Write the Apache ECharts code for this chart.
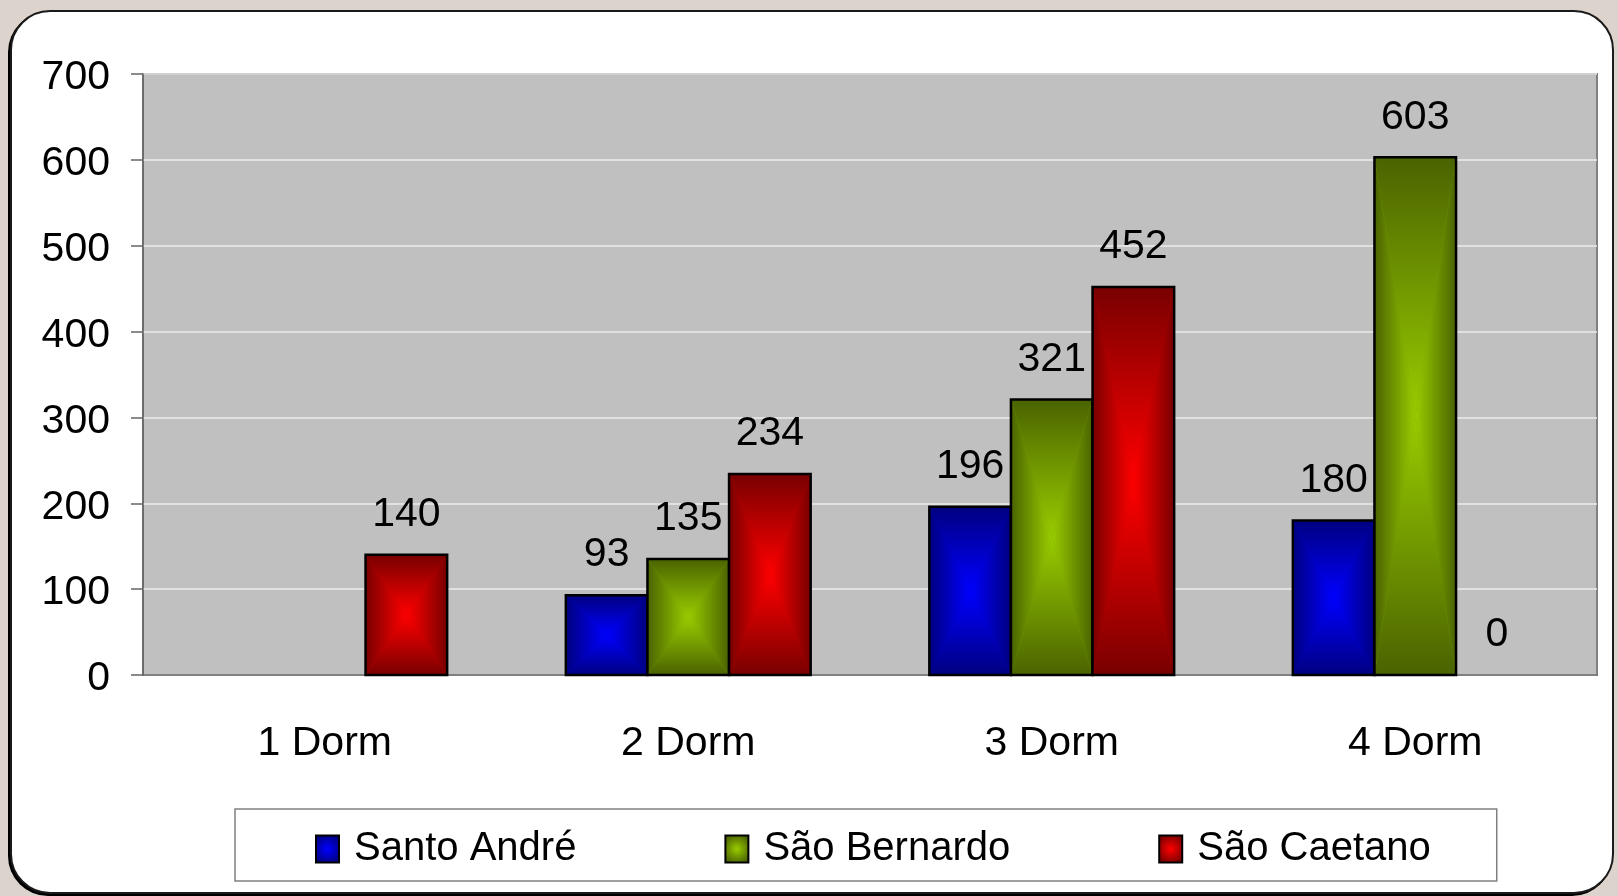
<!DOCTYPE html>
<html>
<head>
    <meta charset="utf-8">
    <title>Dormitórios por cidade</title>
    <script src="https://cdn.jsdelivr.net/npm/echarts@6/dist/echarts.min.js"></script>
    <style>
        html, body {
            margin: 0;
            padding: 0;
            width: 1618px;
            height: 896px;
            overflow: hidden;
            background: #dcd4cc;
        }
        #panel {
            position: absolute;
            left: 10px;
            top: 10px;
            width: 1600px;
            height: 880px;
            background: #fff;
            border: 2px solid #1a1a1a;
            border-radius: 40px;
            box-shadow: -2px 2px 0 #000;
        }
        #chart-container {
            position: absolute;
            left: 0;
            top: 0;
            width: 1618px;
            height: 896px;
        }
    </style>
</head>
<body>
<div id="panel"></div>
<div id="chart-container"></div>

<script>
    // 数据
    var categories = ['1 Dorm', '2 Dorm', '3 Dorm', '4 Dorm'];
    var seriesNames = ['Santo André', 'São Bernardo', 'São Caetano'];
    var santoAndre = [null, 93, 196, 180];
    var saoBernardo = [null, 135, 321, 603];
    var saoCaetano = [140, 234, 452, 0];
    var yTicks = [0, 700, 100]; // min, max, interval

    // 颜色 (暗, 中, 亮)
    var palette = [
        ['#000080', '#0000c8', '#0000ff'],
        ['#4a6300', '#769e00', '#99cc00'],
        ['#780000', '#c00000', '#ff0000']
    ];

    var BAR_RATIO = 0.2245;
    var FONT = '"Liberation Sans", Arial, sans-serif';

    function grad(x2, y2, from, to) {
        return {
            type: 'linear', x: 0, y: 0, x2: x2, y2: y2,
            colorStops: [
                { offset: 0, color: from },
                { offset: 1, color: to }
            ]
        };
    }

    // 画柱子：四个三角形从中心渐变
    function makeRender(idx) {
        var c = palette[idx];
        return function (params, api) {
            var v = api.value(1);
            if (v === null || v === undefined || isNaN(v)) return;
            var cat = api.value(0);
            var bandW = api.size([1, 0])[0];
            var barW = bandW * BAR_RATIO;
            var base = api.coord([cat, 0]);
            var top = api.coord([cat, v]);
            var x0 = base[0] - barW * 1.5 + idx * barW;
            var x1 = x0 + barW;
            var y0 = top[1], y1 = base[1];
            var cx = (x0 + x1) / 2, cy = (y0 + y1) / 2;
            var children = [];
            if (y1 - y0 > 0.5) {
                children.push(
                    { type: 'rect', shape: { x: x0, y: y0, width: barW, height: y1 - y0 }, style: { fill: c[1] } },
                    { type: 'polygon', shape: { points: [[x0, y0], [x1, y0], [cx, cy]] }, style: { fill: grad(0, 1, c[0], c[2]) } },
                    { type: 'polygon', shape: { points: [[x0, y1], [x1, y1], [cx, cy]] }, style: { fill: grad(0, 1, c[2], c[0]) } },
                    { type: 'polygon', shape: { points: [[x0, y0], [x0, y1], [cx, cy]] }, style: { fill: grad(1, 0, c[0], c[2]) } },
                    { type: 'polygon', shape: { points: [[x1, y0], [x1, y1], [cx, cy]] }, style: { fill: grad(1, 0, c[2], c[0]) } },
                    { type: 'rect', shape: { x: x0, y: y0, width: barW, height: y1 - y0 }, style: { fill: null, stroke: '#000', lineWidth: 2.5 } }
                );
            }
            children.push({
                type: 'text',
                style: {
                    text: String(v), x: cx, y: y0 - 40,
                    align: 'center', verticalAlign: 'middle',
                    fill: '#000', font: '41px ' + FONT
                }
            });
            return { type: 'group', children: children };
        };
    }

    var values = [santoAndre, saoBernardo, saoCaetano];
    var series = values.map(function (arr, idx) {
        return {
            name: seriesNames[idx],
            type: 'custom',
            renderItem: makeRender(idx),
            encode: { x: 0, y: 1 },
            itemStyle: {
                color: {
                    type: 'radial', x: 0.5, y: 0.5, r: 0.6,
                    colorStops: [
                        { offset: 0, color: palette[idx][2] },
                        { offset: 1, color: palette[idx][0] }
                    ]
                },
                borderColor: '#000',
                borderWidth: 2
            },
            data: arr.map(function (v, i) { return [i, v]; })
        };
    });

    var myChart = echarts.init(document.getElementById('chart-container'));

    var option = {
        backgroundColor: 'transparent',
        textStyle: { fontFamily: FONT },
        animation: false,
        grid: {
            left: 143,
            top: 74,
            right: 21,
            bottom: 221,
            show: true,
            backgroundColor: '#c0c0c0',
            borderColor: '#808080',
            borderWidth: 2
        },
        legend: {
            data: seriesNames,
            left: 235,
            top: 809,
            orient: 'horizontal',
            icon: 'rect',
            itemWidth: 23,
            itemHeight: 27,
            itemGap: 148,
            padding: [20, 66, 12, 80],
            borderColor: '#808080',
            borderWidth: 1.5,
            itemStyle: { borderColor: '#000', borderWidth: 2 },
            textStyle: {
                fontSize: 40,
                color: '#000',
                fontFamily: FONT,
                padding: [0, 0, 0, 10]
            }
        },
        xAxis: {
            type: 'category',
            data: categories,
            axisLine: { lineStyle: { color: '#666', width: 1.5 } },
            axisTick: { length: 16, lineStyle: { color: '#666', width: 1.5 } },
            axisLabel: { fontSize: 41, color: '#000', margin: 48, fontFamily: FONT },
            splitLine: { show: false }
        },
        yAxis: {
            type: 'value',
            min: yTicks[0],
            max: yTicks[1],
            interval: yTicks[2],
            axisLine: { show: true, lineStyle: { color: '#666', width: 1.5 } },
            axisTick: { show: true, length: 12, lineStyle: { color: '#666', width: 1.5 } },
            axisLabel: {
                margin: 33,
                formatter: '{v|{value}}',
                rich: {
                    v: { fontSize: 41, color: '#000', fontFamily: FONT, padding: [8, 0, 0, 0] }
                }
            },
            splitLine: { lineStyle: { color: '#ececec', width: 1.5 } }
        },
        series: series
    };

    myChart.setOption(option);
</script>
</body>
</html>
